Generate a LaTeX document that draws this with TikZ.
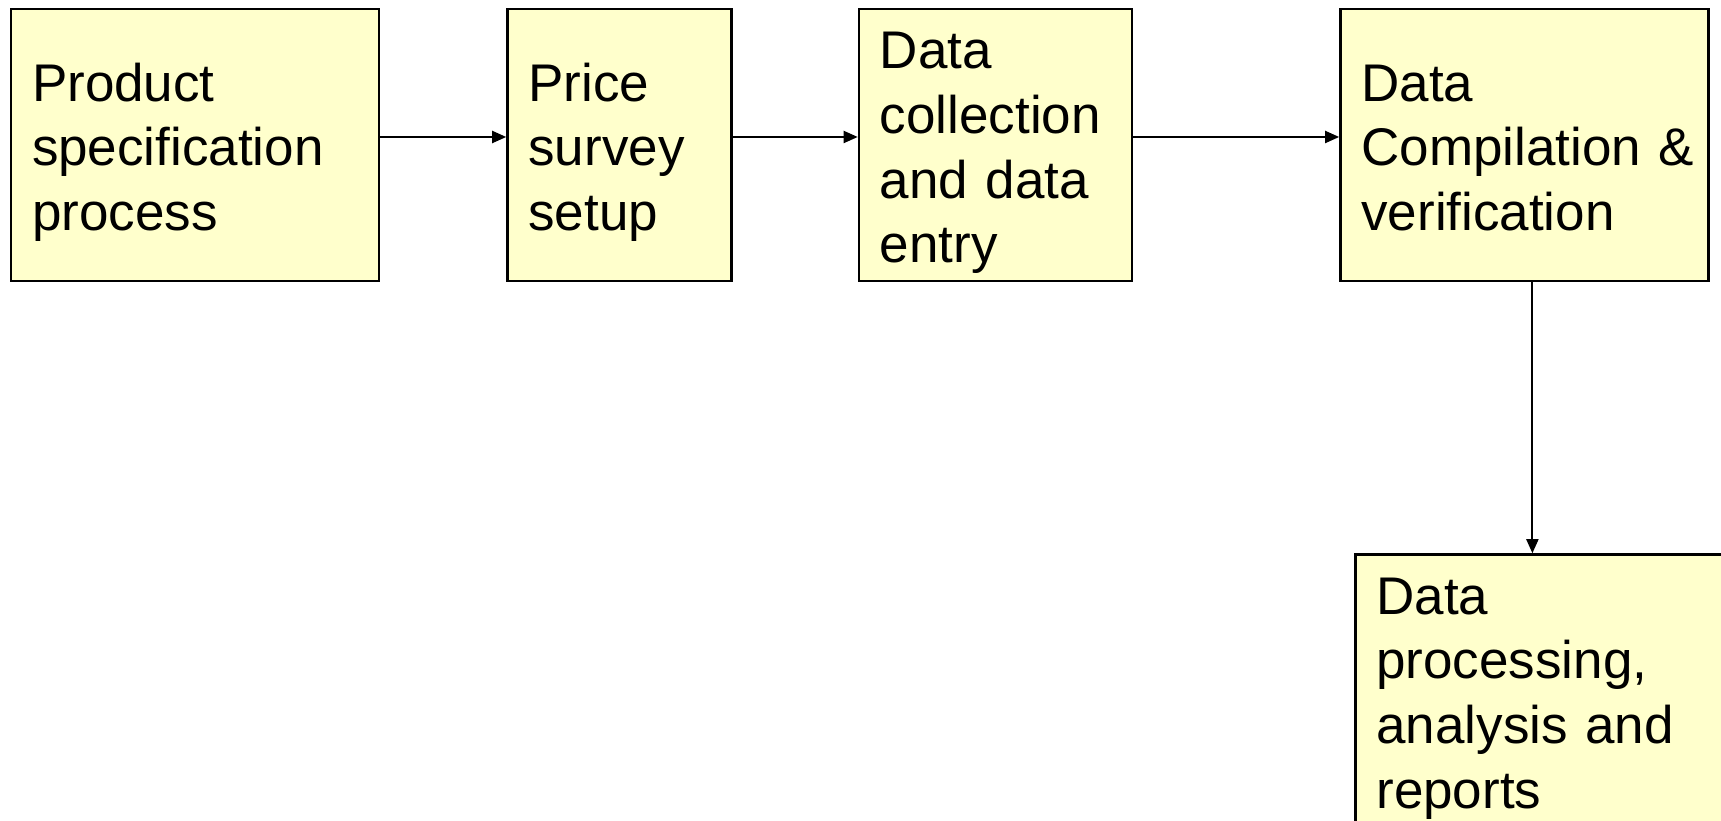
\documentclass[tikz,border=0pt]{standalone}
\usepackage{fontspec}
\setmainfont{Liberation Sans}
\usetikzlibrary{positioning,arrows.meta}
\definecolor{boxfill}{HTML}{FFFFCC}
\tikzset{
  pb/.style={rectangle, draw=black, line width=0.7pt, fill=boxfill, minimum height=2.72cm, inner xsep=0.21cm, inner ysep=0.04cm, text height=0.534cm, align=left, font=\fontsize{15.08pt}{18.4pt}\selectfont, execute at end node={\rule[-0.12cm]{0pt}{0pt}}},
  ar/.style={-{Triangle[length=0.14cm,width=0.12cm]}, line width=0.55pt},
  node distance=1.26cm
}

\begin{document}
\begin{tikzpicture}
	\useasboundingbox (0,0) rectangle (17.21,-8.21);
	\node[pb, text width=3.26cm] (spec) at (1.95,-1.45) {Product\\ specification\\ process};
	\node[pb, text width=1.82cm, right=of spec] (survey) {Price\\ survey\\ setup};
	\node[pb, text width=2.31cm, right=1.25cm of survey] (collect) {Data\\ collection\\ and data\\ entry};
	\node[pb, text width=3.26cm, right=2.06cm of collect] (compile) {Data\\ Compilation~\&\\ verification};
	\node[pb, text width=3.26cm, below=2.71cm of compile, xshift=0.15cm] (report) {Data\\ processing,\\ analysis and\\ reports};
	
	\draw[ar] ([yshift=0.08cm]spec.east) -- ([yshift=0.08cm]survey.west);
	\draw[ar] ([yshift=0.08cm]survey.east) -- ([yshift=0.08cm]collect.west);
	\draw[ar] ([yshift=0.08cm]collect.east) -- ([yshift=0.08cm]compile.west);
	\draw[ar] ([xshift=0.08cm]compile.south) -- ([xshift=0.08cm]compile.south |- report.north);
	
\end{tikzpicture}
\end{document}
